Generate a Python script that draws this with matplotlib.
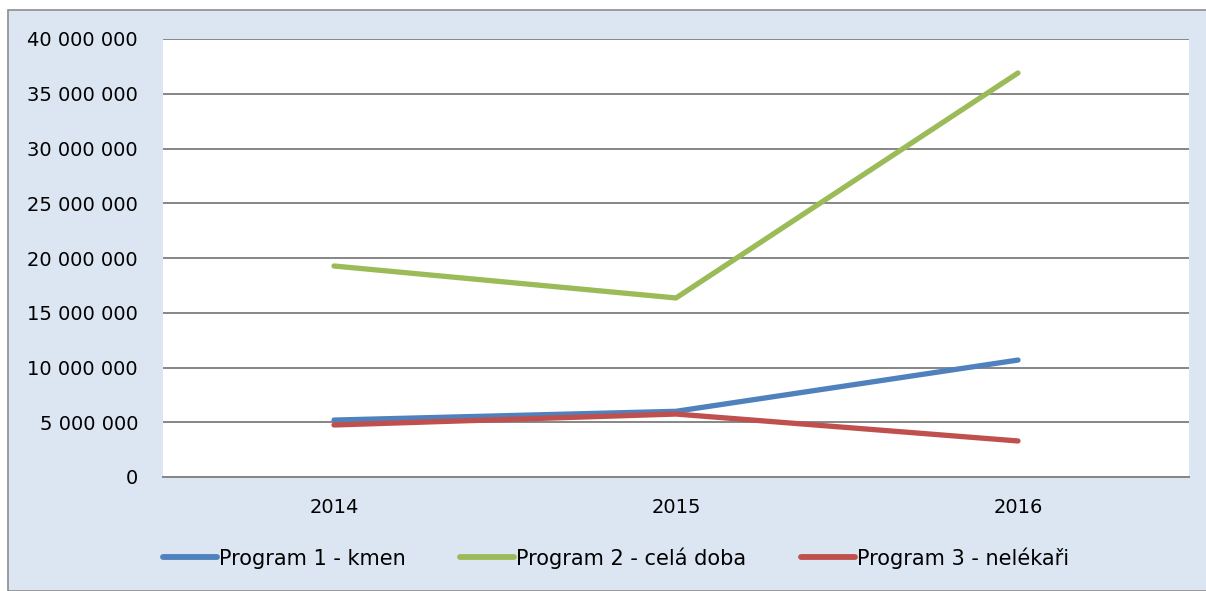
import matplotlib.pyplot as plt
from matplotlib.patches import Rectangle
from matplotlib.ticker import FuncFormatter

years = ["2014", "2015", "2016"]
program_1 = [5_200_000, 6_000_000, 10_680_000]
program_2 = [19_270_000, 16_350_000, 36_900_000]
program_3 = [4_750_000, 5_750_000, 3_290_000]
series_names = ["Program 1 - kmen", "Program 2 - celá doba", "Program 3 - nelékaři"]
series_colors = ["#4F81BD", "#9BBB59", "#C0504D"]

plt.rcParams['font.family'] = ['DejaVu Sans']

W, H = 1206, 591
fig = plt.figure(figsize=(W / 100, H / 100), dpi=100, facecolor='white')

# chart area background with a thin border
fig.patches.append(Rectangle((8 / W, 0), 1.0, 1 - 10 / H, transform=fig.transFigure,
                             facecolor='#DCE6F2', edgecolor='#8C8C8C', linewidth=1.2, zorder=0))

ax = fig.add_axes([163 / W, 1 - 477 / H, (1189 - 163) / W, (477 - 39) / H])
ax.set_zorder(2)
ax.set_facecolor('white')

x = range(len(years))
for vals, name, col in zip([program_1, program_2, program_3], series_names, series_colors):
    ax.plot(x, vals, color=col, linewidth=3.8, solid_capstyle='round', label=name, zorder=3)

ax.set_xlim(-0.5, 2.5)
ax.set_ylim(0, 40_000_000)
ax.set_yticks(range(0, 40_000_001, 5_000_000))
ax.yaxis.set_major_formatter(FuncFormatter(lambda v, p: f"{int(v):,}".replace(",", " ")))
ax.set_xticks(list(x))
ax.set_xticklabels(years)

ax.grid(axis='y', color='#868686', linewidth=1.4, zorder=1)
for s in ['top', 'right', 'left']:
    ax.spines[s].set_visible(False)
ax.spines['bottom'].set_color('#868686')
ax.spines['bottom'].set_linewidth(1.4)
ax.tick_params(axis='y', length=0, pad=18, labelsize=14)
ax.tick_params(axis='x', length=0, pad=15, labelsize=14)

leg = fig.legend(loc='center', bbox_to_anchor=(616 / W, 1 - 558 / H), ncol=3, frameon=False,
                 fontsize=15, handlelength=2.6, handletextpad=0.1, columnspacing=2.6)
for line in leg.get_lines():
    line.set_linewidth(4.2)
leg.set_zorder(3)

plt.savefig("out.png", dpi=100, facecolor=fig.get_facecolor())
